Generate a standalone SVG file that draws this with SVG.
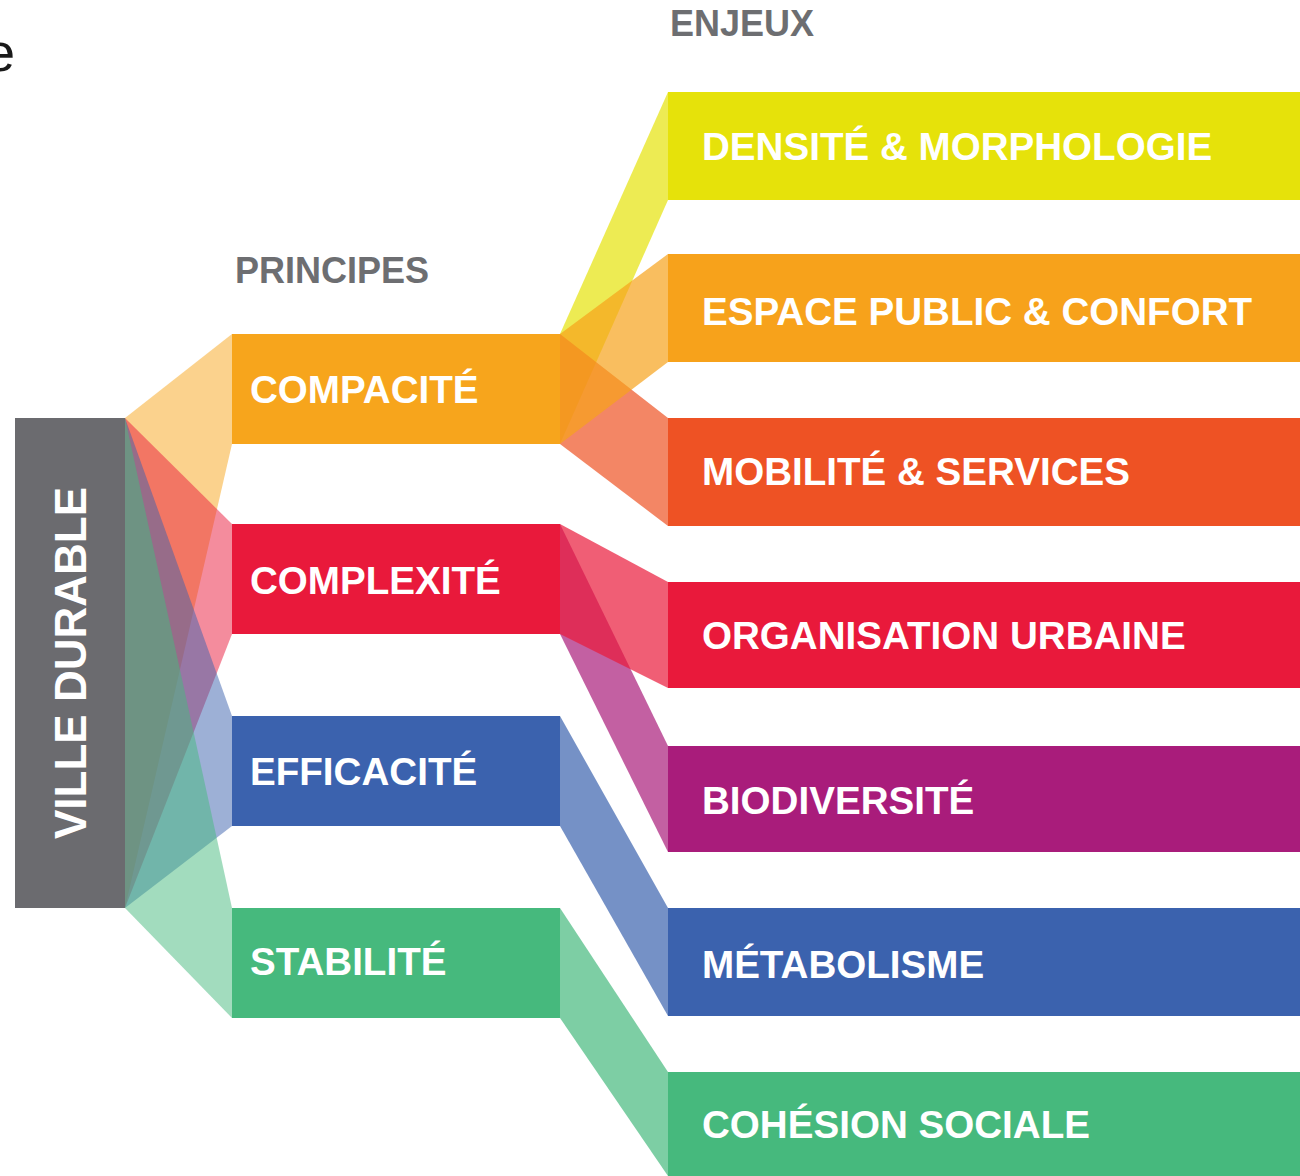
<svg xmlns="http://www.w3.org/2000/svg" width="1300" height="1176" viewBox="0 0 1300 1176">
<style>
.lbl{font-family:"Liberation Sans",Arial,sans-serif;font-weight:bold;font-size:38.6px;fill:#ffffff}
.hdr{font-family:"Liberation Sans",Arial,sans-serif;font-weight:bold;font-size:36px;fill:#6d6e71}
.fanL{opacity:0.5}
.fanR{opacity:0.7}
</style>
<rect x="0" y="0" width="1300" height="1176" fill="#ffffff"/>
<text x="-15" y="71" style="font-family:'Liberation Sans',Arial,sans-serif;font-size:54px;fill:#1a1a1a">e</text>
<g id="headers">
<text class="hdr" x="670" y="36">ENJEUX</text>
<text class="hdr" x="235" y="283">PRINCIPES</text>
</g>
<g id="connectors">
<polygon class="fanL" fill="#f7a51c" points="125,418 232,334 232,444 125,908"/>
<polygon class="fanL" fill="#e9193b" points="125,418 232,524 232,634 125,908"/>
<polygon class="fanL" fill="#3b62ae" points="125,418 232,716 232,826 125,908"/>
<polygon class="fanL" fill="#46b97d" points="125,418 232,908 232,1018 125,908"/>
<polygon class="fanR" fill="#e6e20a" points="560,334 668,92 668,200 560,444"/>
<polygon class="fanR" fill="#ee5224" points="560,334 668,418 668,526 560,444"/>
<polygon class="fanR" fill="#f7a21b" points="560,334 668,254 668,362 560,444"/>
<polygon class="fanR" fill="#a91c7b" points="560,524 668,746 668,852 560,634"/>
<polygon class="fanR" fill="#e9193b" points="560,524 668,582 668,688 560,634"/>
<polygon class="fanR" fill="#3b62ae" points="560,716 668,908 668,1016 560,826"/>
<polygon class="fanR" fill="#46b97d" points="560,908 668,1072 668,1176 560,1018"/>
</g>
<g id="ville-durable">
<rect x="15" y="418" width="110" height="490" fill="#6b6b6f"/>
<text class="lbl" style="font-size:44px" text-anchor="middle" transform="translate(86,663) rotate(-90)">VILLE DURABLE</text>
</g>
<g id="compacite">
<rect x="232" y="334" width="328" height="110" fill="#f7a51c"/>
<text class="lbl" x="250" y="403">COMPACITÉ</text>
</g>
<g id="complexite">
<rect x="232" y="524" width="328" height="110" fill="#e9193b"/>
<text class="lbl" x="250" y="594">COMPLEXITÉ</text>
</g>
<g id="efficacite">
<rect x="232" y="716" width="328" height="110" fill="#3b62ae"/>
<text class="lbl" x="250" y="785">EFFICACITÉ</text>
</g>
<g id="stabilite">
<rect x="232" y="908" width="328" height="110" fill="#46b97d"/>
<text class="lbl" x="250" y="975">STABILITÉ</text>
</g>
<g id="densite">
<rect x="668" y="92" width="632" height="108" fill="#e6e20a"/>
<text class="lbl" x="702" y="160">DENSITÉ &amp; MORPHOLOGIE</text>
</g>
<g id="espace-public">
<rect x="668" y="254" width="632" height="108" fill="#f7a21b"/>
<text class="lbl" x="702" y="325">ESPACE PUBLIC &amp; CONFORT</text>
</g>
<g id="mobilite">
<rect x="668" y="418" width="632" height="108" fill="#ee5224"/>
<text class="lbl" x="702" y="485">MOBILITÉ &amp; SERVICES</text>
</g>
<g id="organisation">
<rect x="668" y="582" width="632" height="106" fill="#e9193b"/>
<text class="lbl" x="702" y="649">ORGANISATION URBAINE</text>
</g>
<g id="biodiversite">
<rect x="668" y="746" width="632" height="106" fill="#a91c7b"/>
<text class="lbl" x="702" y="814">BIODIVERSITÉ</text>
</g>
<g id="metabolisme">
<rect x="668" y="908" width="632" height="108" fill="#3b62ae"/>
<text class="lbl" x="702" y="978">MÉTABOLISME</text>
</g>
<g id="cohesion">
<rect x="668" y="1072" width="632" height="104" fill="#46b97d"/>
<text class="lbl" x="702" y="1138">COHÉSION SOCIALE</text>
</g>
</svg>
